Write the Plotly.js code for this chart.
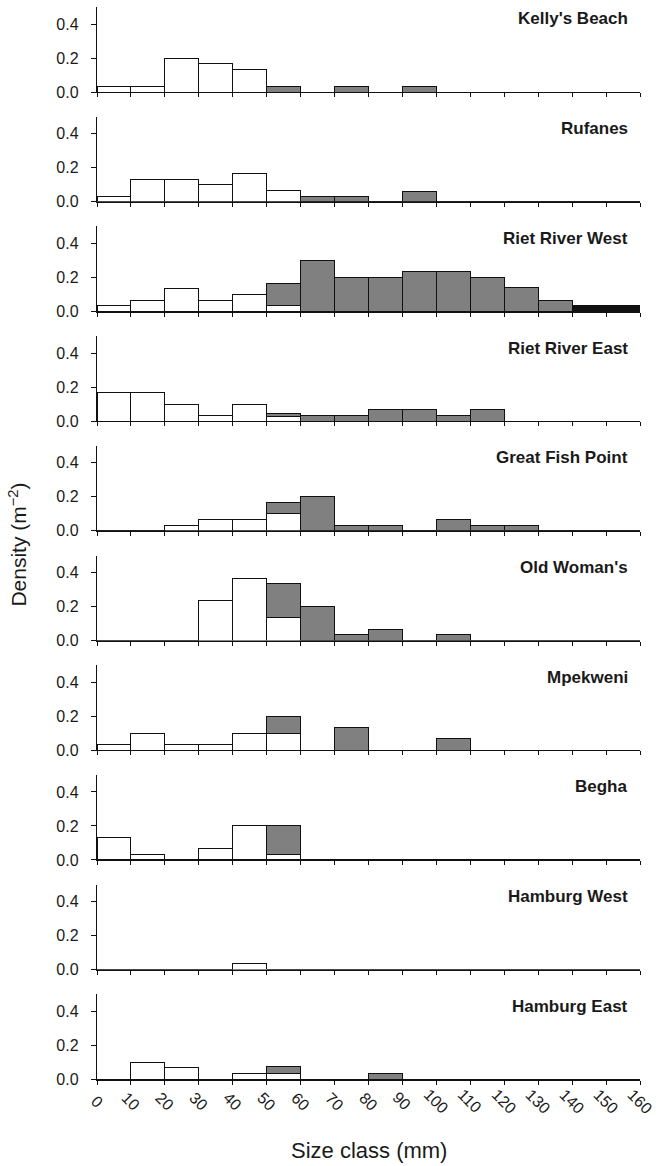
<!DOCTYPE html>
<html>
<head>
<meta charset="utf-8">
<script src="https://cdn.plot.ly/plotly-3.0.1.min.js"></script>
<style>
html,body{margin:0;padding:0;background:#fff;}
#chart{width:656px;height:1166px;}
</style>
</head>
<body>
<div id="chart"></div>
<script>
// Size class lower bin edges (mm)
const sizeClasses = [0,10,20,30,40,50,60,70,80,90,100,110,120,130,140,150];
const sizeTickLabels = ["0","10","20","30","40","50","60","70","80","90","100","110","120","130","140","150","160"];
const sites = ["Kelly's Beach","Rufanes","Riet River West","Riet River East","Great Fish Point","Old Woman's","Mpekweni","Begha","Hamburg West","Hamburg East"];

// Density (m^-2) per size class
const kellysWhite  = [0.033,0.033,0.2,0.167,0.133,0,0,0,0,0,0,0,0,0,0,0];
const kellysGrey   = [0,0,0,0,0,0.033,0,0.033,0,0.033,0,0,0,0,0,0];
const rufanesWhite = [0.033,0.133,0.133,0.1,0.167,0.067,0,0,0,0,0,0,0,0,0,0];
const rufanesGrey  = [0,0,0,0,0,0,0.033,0.033,0,0.06,0,0,0,0,0,0];
const rrwWhite     = [0.033,0.067,0.133,0.067,0.1,0.033,0,0,0,0,0,0,0,0,0,0];
const rrwGrey      = [0,0,0,0,0,0.133,0.3,0.2,0.2,0.233,0.233,0.2,0.14,0.067,0,0];
const rrwBlack     = [0,0,0,0,0,0,0,0,0,0,0,0,0,0,0.033,0.033];
const rreWhite     = [0.167,0.167,0.1,0.033,0.1,0.03,0,0,0,0,0,0,0,0,0,0];
const rreGrey      = [0,0,0,0,0,0.013,0.033,0.033,0.067,0.067,0.033,0.067,0,0,0,0];
const gfpWhite     = [0,0,0.033,0.067,0.067,0.1,0,0,0,0,0,0,0,0,0,0];
const gfpGrey      = [0,0,0,0,0,0.067,0.2,0.033,0.033,0,0.067,0.033,0.033,0,0,0];
const owWhite      = [0,0,0,0.233,0.367,0.133,0,0,0,0,0,0,0,0,0,0];
const owGrey       = [0,0,0,0,0,0.2,0.2,0.033,0.067,0,0.033,0,0,0,0,0];
const mpekWhite    = [0.033,0.1,0.033,0.033,0.1,0.1,0,0,0,0,0,0,0,0,0,0];
const mpekGrey     = [0,0,0,0,0,0.1,0,0.133,0,0,0.067,0,0,0,0,0];
const beghaWhite   = [0.133,0.033,0,0.067,0.2,0.033,0,0,0,0,0,0,0,0,0,0];
const beghaGrey    = [0,0,0,0,0,0.167,0,0,0,0,0,0,0,0,0,0];
const hwWhite      = [0,0,0,0,0.033,0,0,0,0,0,0,0,0,0,0,0];
const hwGrey       = [0,0,0,0,0,0,0,0,0,0,0,0,0,0,0,0];
const heWhite      = [0,0.1,0.067,0,0.033,0.033,0,0,0,0,0,0,0,0,0,0];
const heGrey       = [0,0,0,0,0,0.04,0,0,0.033,0,0,0,0,0,0,0];

const panelSeries = [
  [kellysWhite, kellysGrey, null],
  [rufanesWhite, rufanesGrey, null],
  [rrwWhite, rrwGrey, rrwBlack],
  [rreWhite, rreGrey, null],
  [gfpWhite, gfpGrey, null],
  [owWhite, owGrey, null],
  [mpekWhite, mpekGrey, null],
  [beghaWhite, beghaGrey, null],
  [hwWhite, hwGrey, null],
  [heWhite, heGrey, null]
];

const binWidth = sizeClasses[1] - sizeClasses[0];
const centers = sizeClasses.map(v => v + binWidth / 2);
const tickVals = sizeClasses.concat([sizeClasses[sizeClasses.length-1] + binWidth]);

const FONT = "'Liberation Sans', Arial, Helvetica, sans-serif";
const TXT = '#1a1a1a';
const W = 656, H = 1166;
const mt = 7, mb = 86, ml = 96.5, mr = 16;
const plotH = H - mt - mb;
const panelH = 85, pitch = 109.7;
const pxToPaperY = px => (H - mb - px) / plotH;

const data = [];
const layout = {
  width: W, height: H,
  margin: {l: ml, r: mr, t: mt, b: mb, pad: 0},
  paper_bgcolor: '#fff', plot_bgcolor: 'rgba(0,0,0,0)',
  barmode: 'stack', bargap: 0,
  showlegend: false,
  font: {family: FONT, color: TXT, size: 16},
  annotations: []
};

const fills = ['#ffffff', '#808080', '#111111'];
panelSeries.forEach((series, i) => {
  const n = i + 1;
  const xa = n === 1 ? 'x' : 'x' + n;
  const ya = n === 1 ? 'y' : 'y' + n;
  series.forEach((vals, k) => {
    if (!vals) return;
    data.push({
      type: 'bar', x: centers, y: vals, width: binWidth,
      xaxis: xa, yaxis: ya,
      marker: {color: fills[k], line: {color: '#111', width: 1}},
      hoverinfo: 'skip'
    });
  });
  const topPx = mt + i * pitch;
  const botPx = topPx + panelH;
  const xKey = n === 1 ? 'xaxis' : 'xaxis' + n;
  const yKey = n === 1 ? 'yaxis' : 'yaxis' + n;
  layout[xKey] = {
    domain: [0, 1], anchor: ya, range: [0, 160],
    tickmode: 'array', tickvals: tickVals,
    ticks: 'outside', ticklen: 4, tickwidth: 1, tickcolor: '#111',
    showline: true, linecolor: '#111', linewidth: 1.2,
    showgrid: false, zeroline: false,
    showticklabels: false,
    fixedrange: true
  };
  if (n > 1) layout[xKey].matches = 'x';
  layout[yKey] = {
    domain: [Math.max(0, pxToPaperY(botPx)), Math.min(1, pxToPaperY(topPx))], anchor: xa, range: [0, 0.5],
    tickmode: 'array', tickvals: [0, 0.2, 0.4], ticktext: ['0.0', '0.2', '0.4'],
    ticks: 'outside', ticklen: 5, tickwidth: 1, tickcolor: '#111',
    showline: true, linecolor: '#111', linewidth: 1.2,
    showgrid: false, zeroline: false,
    ticklabelstandoff: 9,
    tickfont: {family: FONT, size: 16, color: TXT},
    fixedrange: true
  };
  layout.annotations.push({
    text: '<b>' + sites[i] + '</b>', xref: 'paper', yref: ya,
    x: (630 - ml) / (W - ml - mr), y: 0.43, xanchor: 'right', yanchor: 'middle',
    showarrow: false, font: {family: FONT, size: 17, color: TXT}
  });
});

// Rotated size-class labels centred under each tick of the bottom panel
tickVals.forEach((v, j) => {
  layout.annotations.push({
    text: sizeTickLabels[j], xref: 'x', yref: 'paper',
    x: v, y: pxToPaperY(1101), xanchor: 'center', yanchor: 'middle',
    textangle: 45, showarrow: false,
    font: {family: FONT, size: 16, color: TXT}
  });
});

layout.annotations.push({
  text: 'Size class (mm)', xref: 'paper', yref: 'paper',
  x: (369 - ml) / (W - ml - mr), y: pxToPaperY(1150),
  xanchor: 'center', yanchor: 'middle', showarrow: false,
  font: {family: FONT, size: 22, color: TXT}
});
layout.annotations.push({
  text: 'Density (m<sup>\u22122</sup>)', xref: 'paper', yref: 'paper',
  x: (17 - ml) / (W - ml - mr), y: pxToPaperY(545),
  xanchor: 'center', yanchor: 'middle', textangle: -90, showarrow: false,
  font: {family: FONT, size: 21, color: TXT}
});

Plotly.newPlot('chart', data, layout, {staticPlot: true, displayModeBar: false});
</script>
</body>
</html>
